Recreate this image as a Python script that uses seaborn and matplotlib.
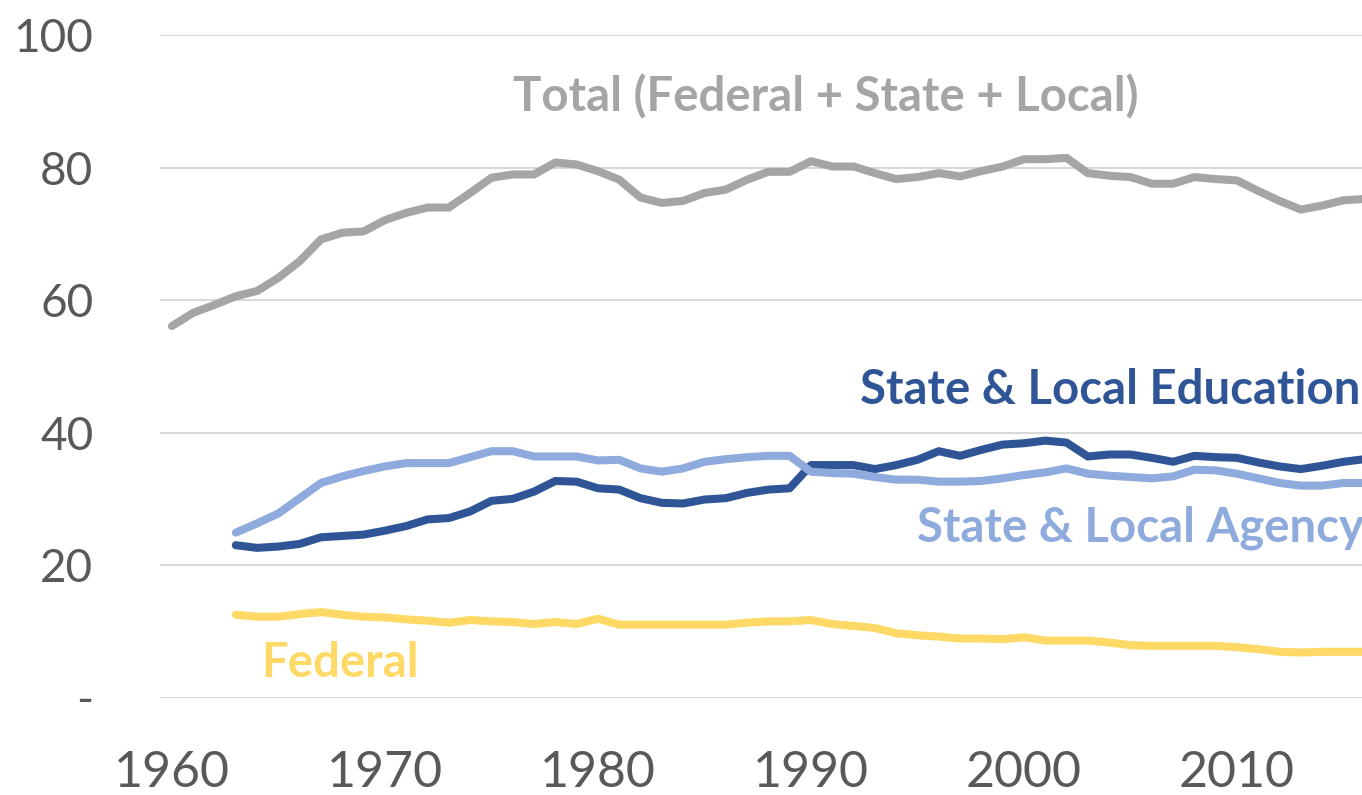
import numpy as np
import pandas as pd
import matplotlib
matplotlib.use("Agg")
import matplotlib.pyplot as plt
import seaborn as sns

# ---- data ----
years_total = list(range(1960, 2017))
total = [56.1, 58.1, 59.3, 60.6, 61.4, 63.4, 65.9, 69.2, 70.2, 70.4,
         72.1, 73.2, 74.0, 74.0, 76.2, 78.5, 79.0, 79.0, 80.8, 80.5,
         79.5, 78.2, 75.5, 74.7, 75.0, 76.2, 76.7, 78.2, 79.4, 79.4,
         81.0, 80.2, 80.2, 79.2, 78.3, 78.6, 79.2, 78.7, 79.5, 80.2,
         81.3, 81.3, 81.5, 79.2, 78.8, 78.6, 77.6, 77.6, 78.6, 78.3,
         78.1, 76.5, 75.0, 73.7, 74.3, 75.1, 75.3]

years_sub = list(range(1963, 2017))
education = [23.0, 22.6, 22.8, 23.2, 24.2, 24.4, 24.6,
             25.2, 25.9, 26.9, 27.1, 28.1, 29.7, 30.0, 31.1, 32.7, 32.6,
             31.6, 31.4, 30.1, 29.4, 29.3, 29.9, 30.1, 30.9, 31.4, 31.6,
             35.1, 35.1, 35.1, 34.5, 35.1, 35.9, 37.2, 36.5, 37.4, 38.2,
             38.4, 38.8, 38.5, 36.4, 36.7, 36.7, 36.2, 35.6, 36.5, 36.3,
             36.2, 35.5, 34.9, 34.5, 35.0, 35.6, 36.0]
agency = [24.9, 26.3, 27.8, 30.1, 32.4, 33.4, 34.2,
          34.9, 35.4, 35.4, 35.4, 36.3, 37.2, 37.2, 36.4, 36.4, 36.4,
          35.8, 35.9, 34.6, 34.1, 34.6, 35.6, 36.0, 36.3, 36.5, 36.5,
          34.1, 33.9, 33.8, 33.3, 32.9, 32.9, 32.6, 32.6, 32.7, 33.1,
          33.6, 34.0, 34.6, 33.8, 33.5, 33.3, 33.1, 33.4, 34.4, 34.3,
          33.8, 33.1, 32.4, 32.0, 32.0, 32.4, 32.4]
federal = [12.5, 12.2, 12.2, 12.6, 12.9, 12.5, 12.2,
           12.1, 11.8, 11.6, 11.3, 11.7, 11.5, 11.4, 11.1, 11.4, 11.1,
           11.9, 11.0, 11.0, 11.0, 11.0, 11.0, 11.0, 11.3, 11.5, 11.5,
           11.7, 11.1, 10.8, 10.5, 9.7, 9.4, 9.2, 8.9, 8.9, 8.8,
           9.1, 8.6, 8.6, 8.6, 8.3, 7.9, 7.8, 7.8, 7.8, 7.8,
           7.6, 7.3, 6.9, 6.8, 6.9, 6.9, 6.9]

y_ticks = [0, 20, 40, 60, 80, 100]
y_tick_labels = ["-", "20", "40", "60", "80", "100"]
x_ticks = [1960, 1970, 1980, 1990, 2000, 2010]

series_names = ["Total (Federal + State + Local)", "State & Local Education",
                "State & Local Agency", "Federal"]
colors = {"Total (Federal + State + Local)": "#A5A5A5",
          "State & Local Education": "#2F5597",
          "State & Local Agency": "#8FAADC",
          "Federal": "#FFD966"}

df = pd.concat([
    pd.DataFrame({"year": years_total, "value": total, "series": series_names[0]}),
    pd.DataFrame({"year": years_sub, "value": education, "series": series_names[1]}),
    pd.DataFrame({"year": years_sub, "value": agency, "series": series_names[2]}),
    pd.DataFrame({"year": years_sub, "value": federal, "series": series_names[3]}),
])

sns.set_theme(style="white")
plt.rcParams['font.family'] = ['Lato', 'DejaVu Sans']

fig = plt.figure(figsize=(13.62, 7.95), dpi=100)
ax = fig.add_axes([160 / 1362, 1 - 697.5 / 795, 1 - 160 / 1362, (697.5 - 35.4) / 795])

sns.lineplot(data=df, x="year", y="value", hue="series", palette=colors,
             hue_order=series_names, linewidth=5.8, legend=False, ax=ax)
for ln in ax.lines:
    ln.set_solid_capstyle("round")
    ln.set_solid_joinstyle("round")

ax.set_xlim(1959.44, 2015.87)
ax.set_ylim(0, 100)
ax.set_yticks(y_ticks)
ax.set_yticklabels(y_tick_labels)
ax.set_xticks(x_ticks)
ax.yaxis.grid(True, color="#D9D9D9", linewidth=1.5)
ax.set_axisbelow(True)
for s in ax.spines.values():
    s.set_visible(False)
ax.tick_params(axis="y", length=0, pad=48, labelsize=33, labelcolor="#595959")
ax.tick_params(axis="x", length=0, pad=38, labelsize=36, labelcolor="#595959")
ax.set_xlabel("")
ax.set_ylabel("")

label_size = 34
ax.text(1976.0, 90.8, series_names[0], color=colors[series_names[0]],
        fontsize=label_size, fontweight="bold", va="center", ha="left")
ax.text(1992.3, 46.5, series_names[1], color=colors[series_names[1]],
        fontsize=label_size, fontweight="bold", va="center", ha="left")
ax.text(1995.0, 25.7, series_names[2], color=colors[series_names[2]],
        fontsize=label_size, fontweight="bold", va="center", ha="left")
ax.text(1964.2, 5.2, series_names[3], color=colors[series_names[3]],
        fontsize=label_size, fontweight="bold", va="center", ha="left")

fig.savefig("out.png", dpi=100)
